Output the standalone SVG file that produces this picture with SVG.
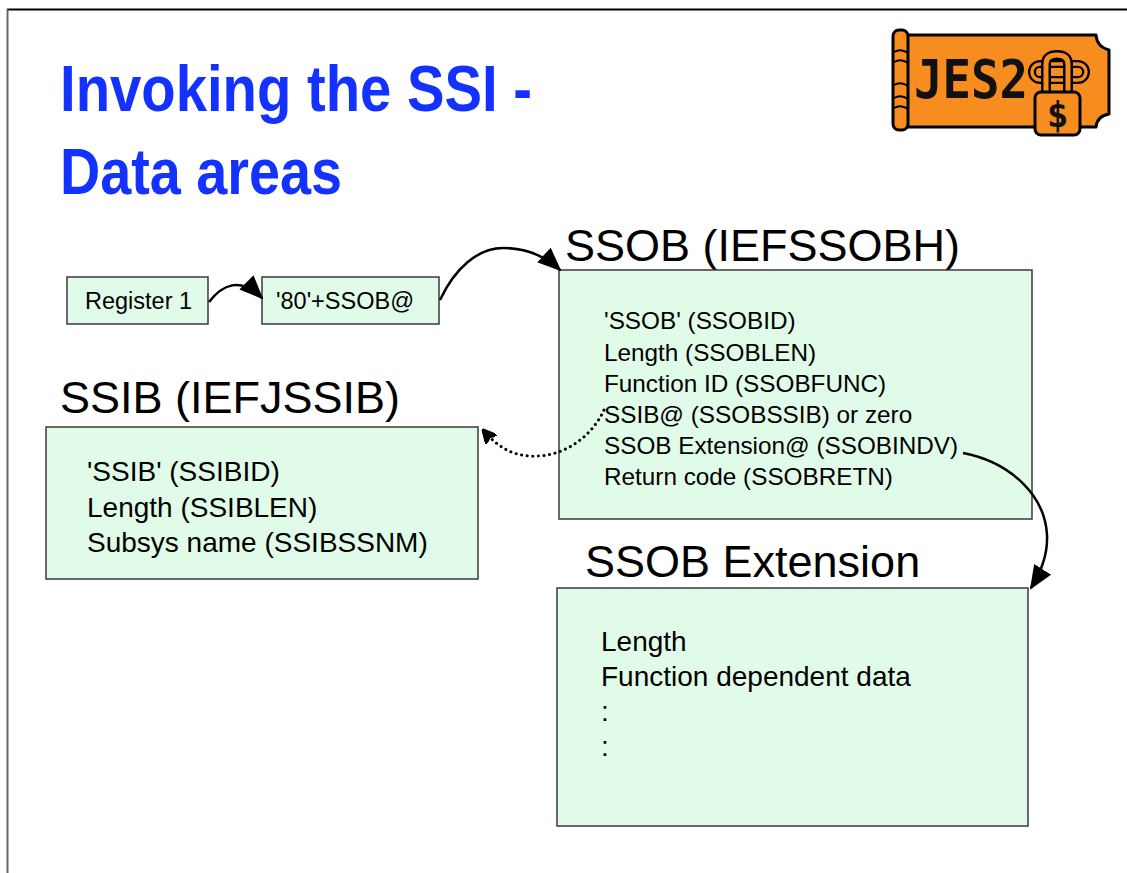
<svg xmlns="http://www.w3.org/2000/svg" width="1127" height="873" viewBox="0 0 1127 873">
<style>
.t{font-family:"Liberation Sans",Arial,sans-serif;fill:#000}
.title{font-family:"Liberation Sans",Arial,sans-serif;font-weight:bold;fill:#1432ff;font-size:64px}
.box{fill:#e0fce9;stroke:#3a3a3a;stroke-width:1.5}
.conn{fill:none;stroke:#000;stroke-width:2.5}
.dot{fill:none;stroke:#000;stroke-width:3;stroke-dasharray:0.1 5.5;stroke-linecap:round}
.h{font-size:45px}
.b24{font-size:24.3px}
.b28{font-size:28px}
.b23{font-size:23.5px}
</style>
<defs>
<marker id="ah" viewBox="0 0 24 20" refX="22" refY="10" markerWidth="24" markerHeight="20" markerUnits="userSpaceOnUse" orient="auto">
<path d="M0,0 L24,10 L0,20 Z" fill="#000"/>
</marker>
<marker id="ahs" viewBox="0 0 12 12" refX="10" refY="6" markerWidth="14" markerHeight="14" markerUnits="userSpaceOnUse" orient="auto">
<path d="M0,0 L12,6 L0,12 L3,6 Z" fill="#000" stroke="#000" stroke-width="2" stroke-linejoin="round"/>
</marker>
</defs>
<rect x="0" y="0" width="1127" height="873" fill="#fff"/>
<line x1="7" y1="9.5" x2="1127" y2="9.5" stroke="#000" stroke-width="2"/>
<line x1="7.5" y1="9" x2="7.5" y2="873" stroke="#666" stroke-width="2"/>

<g id="title">
<text class="title" x="60" y="111" textLength="472" lengthAdjust="spacingAndGlyphs">Invoking the SSI -</text>
<text class="title" x="60" y="194" textLength="282" lengthAdjust="spacingAndGlyphs">Data areas</text>
</g>

<g id="logo">
<path d="M903,35 L1096,35 Q1097,47 1109,50 L1109,114 Q1097,116 1096,127 L903,127 Z" fill="#f78d1e" stroke="#000" stroke-width="3" stroke-linejoin="round"/>
<rect x="893" y="30" width="15" height="100" rx="6" fill="#f78d1e" stroke="#000" stroke-width="3"/>
<path d="M894,52 Q901,48 908,53 M894,62 Q901,58 908,63 M894,85 Q901,81 908,86 M894,98 Q901,94 908,99 M894,108 Q901,104 908,109" fill="none" stroke="#000" stroke-width="2"/>
<text x="914" y="98" font-family="DejaVu Sans Mono,monospace" font-weight="bold" font-size="54" textLength="114" lengthAdjust="spacingAndGlyphs" fill="#111">JES2</text>
<rect x="1032" y="64" width="54" height="16" rx="8" fill="none" stroke="#000" stroke-width="8"/>
<rect x="1032" y="64" width="54" height="16" rx="8" fill="none" stroke="#f78d1e" stroke-width="3.5"/>
<path d="M1046,94 L1046,64 Q1046,55 1057,55 Q1068,55 1068,64 L1068,94" fill="none" stroke="#000" stroke-width="10"/>
<path d="M1046,94 L1046,64 Q1046,55 1057,55 Q1068,55 1068,64 L1068,94" fill="none" stroke="#f78d1e" stroke-width="5"/>
<rect x="1035" y="92" width="45" height="43" rx="6" fill="#f78d1e" stroke="#000" stroke-width="3"/>
<text x="1057.5" y="127" text-anchor="middle" font-family="DejaVu Sans Mono,monospace" font-weight="bold" font-size="36" fill="#111">$</text>
</g>

<g id="register1">
<rect class="box" x="67" y="277" width="141" height="47"/>
<text class="t b23" x="85" y="309">Register 1</text>
</g>

<g id="ssobptr">
<rect class="box" x="262" y="277" width="177" height="47"/>
<text class="t b23" x="276" y="309">'80'+SSOB@</text>
</g>

<g id="ssob">
<text class="t h" x="565" y="261">SSOB (IEFSSOBH)</text>
<rect class="box" x="559" y="270" width="473" height="249"/>
<text class="t b24" x="604" y="329">'SSOB' (SSOBID)</text>
<text class="t b24" x="604" y="361">Length (SSOBLEN)</text>
<text class="t b24" x="604" y="392">Function ID (SSOBFUNC)</text>
<text class="t b24" x="604" y="423">SSIB@ (SSOBSSIB) or zero</text>
<text class="t b24" x="604" y="454">SSOB Extension@ (SSOBINDV)</text>
<text class="t b24" x="604" y="485">Return code (SSOBRETN)</text>
</g>

<g id="ssib">
<text class="t h" x="60" y="413">SSIB (IEFJSSIB)</text>
<rect class="box" x="46" y="427" width="432" height="152"/>
<text class="t b28" x="87" y="481">'SSIB' (SSIBID)</text>
<text class="t b28" x="87" y="517">Length (SSIBLEN)</text>
<text class="t b28" x="87" y="552">Subsys name (SSIBSSNM)</text>
</g>

<g id="ssobext">
<text class="t h" x="585" y="577">SSOB Extension</text>
<rect class="box" x="557" y="588" width="471" height="238"/>
<text class="t b28" x="601" y="651">Length</text>
<text class="t b28" x="601" y="686">Function dependent data</text>
<text class="t b28" x="601" y="721">:</text>
<text class="t b28" x="601" y="756">:</text>
</g>

<g id="connectors">
<path class="conn" d="M209,302 C222,285 240,276 262,298" marker-end="url(#ah)"/>
<path class="conn" d="M440,300 C455,268 478,248 503,248 C528,248 546,257 560,270" marker-end="url(#ah)"/>
<path class="dot" d="M604,410 C590,440 560,458 530,456 C510,455 496,445 484,431" marker-end="url(#ahs)"/>
<path class="conn" d="M963,453 C1010,462 1045,495 1047,535 C1048,555 1041,572 1031,588" marker-end="url(#ah)"/>
</g>
</svg>
